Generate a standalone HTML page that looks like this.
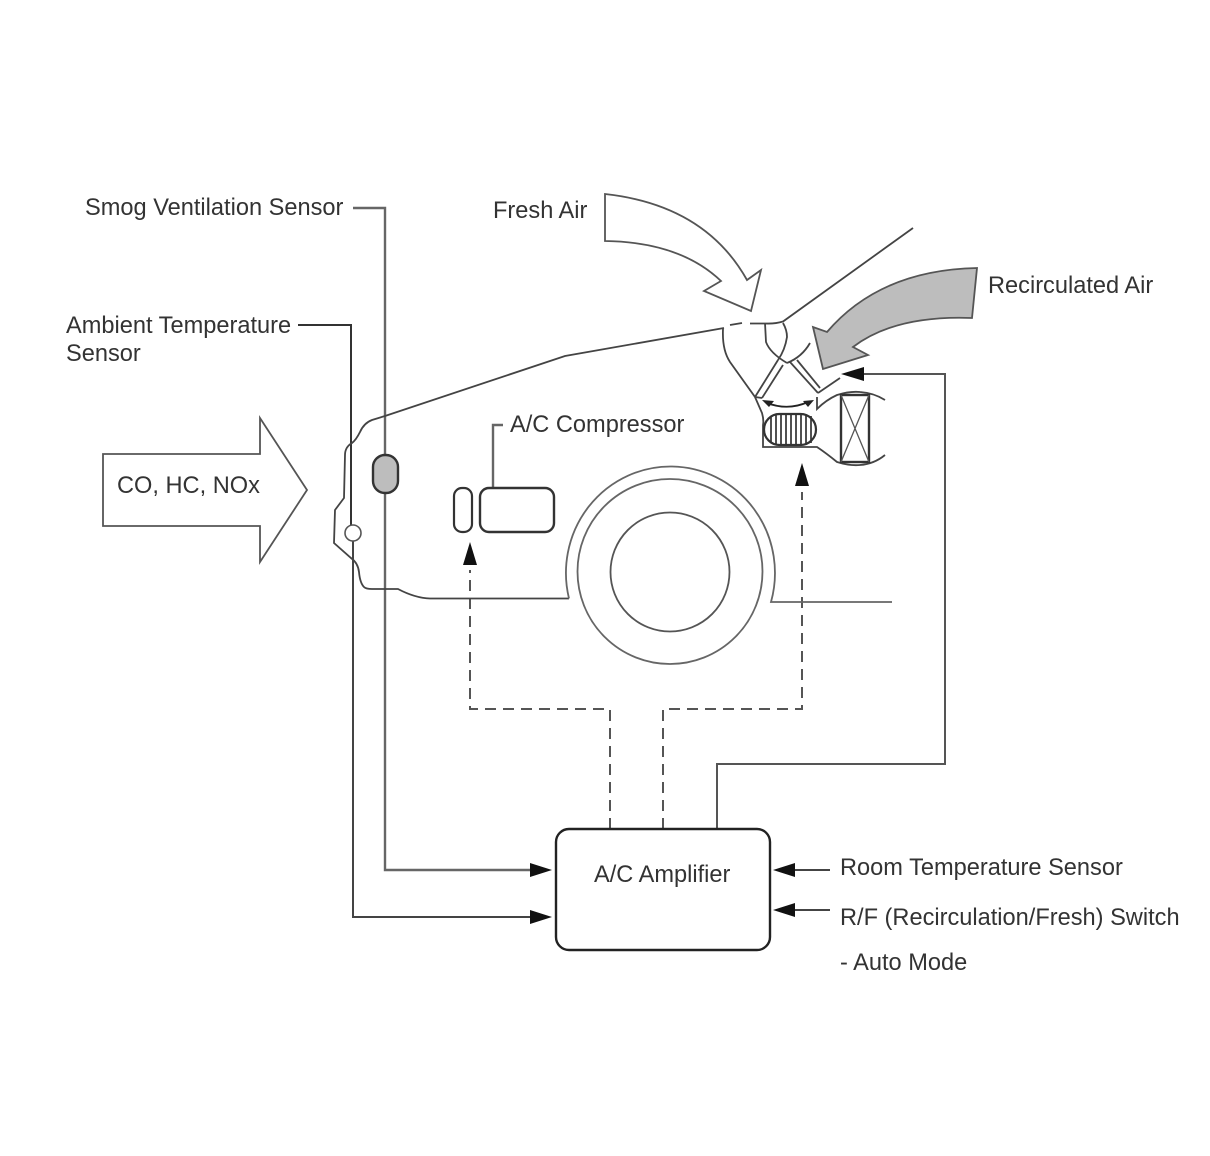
<!DOCTYPE html>
<html>
<head>
<meta charset="utf-8">
<style>
html,body{margin:0;padding:0;background:#fff;}
svg{display:block;}
text{font-family:"Liberation Sans",sans-serif;font-size:23.6px;fill:#333;}
</style>
</head>
<body>
<svg width="1210" height="1156" viewBox="0 0 1210 1156" xmlns="http://www.w3.org/2000/svg">
<!-- leaders and connectors -->
<g fill="none" stroke-width="2">
<path d="M353 208H385V454M385 494V870H530" stroke="#666" stroke-width="2.4"/>
<path d="M298 325H351V525" stroke="#333"/>
<path d="M353 541V917H530" stroke="#444"/>
<path d="M503 425H493V488" stroke="#666" stroke-width="2.4"/>
<path d="M717 829V764H945V374H862" stroke="#555"/>
<path d="M830 870H795M830 910H795" stroke="#444"/>
</g>
<g fill="none" stroke="#555" stroke-width="2" stroke-dasharray="11 7">
<path d="M610 829V709H470V570"/>
<path d="M663 829V709H802V492"/>
</g>
<g fill="none" stroke="#444" stroke-width="1.8">
<!-- car body -->
<path d="M913 228L783 321.5Q775 324 765 323.5L750 323.5"/>
<path d="M742 323L730 325"/>
<path d="M724 328L565 356L385 416L372 420Q364 423 360 432Q356 440 352 443Q345 447 345 455L344 498L335 510L334 543L351 558Q358 563 359 572Q360 583 364 587Q366 589 372 589L398 589Q415 598 430 598.5L569 598.5"/>
<!-- wheel -->
<path d="M569 598.5A104.5 106.5 0 1 1 771 602L892 602" stroke="#666"/>
<circle cx="670" cy="571.5" r="92.5" stroke="#666"/>
<circle cx="670" cy="572" r="59.5" stroke="#555"/>
<!-- duct -->
<path d="M723 329Q722 350 730 362L755 397L762 413Q764 420 763 425L763 447L817 447Q826 453 837 462Q850 466 860 465Q874 464 885 455"/>
<path d="M765 323L766 342Q770 353 787 363"/>
<path d="M783 323Q787 330 787 337Q785 350 778 360"/>
<path d="M787 363Q802 357 810 343"/>
<!-- flaps -->
<path d="M755 397L778 360M762 398L783 365M755 397L762 398"/>
<path d="M790 362L818 393M797 360L820 388"/>
<path d="M818 393L840 378"/>
<path d="M817 397L817 409Q826 400 837 395Q850 391 860 392Q874 393 885 400"/>
<!-- swing arc -->
<path d="M767 403Q788 411 808 402" stroke="#222"/>
</g>
<path d="M762 400L774 401L769 407ZM814 400L803 401L808 407Z" fill="#222"/>
<!-- blower -->
<rect x="764" y="414" width="52" height="31" rx="15.5" fill="#fff" stroke="#333" stroke-width="2.2"/>
<path d="M771 416V443M776 415V444M781 415V444M786 415V444M791 415V444M796 415V444M801 415V444M806 415V444M811 416V443" stroke="#333" stroke-width="1.7"/>
<!-- filter -->
<rect x="841" y="395" width="28" height="67" fill="#fff" stroke="#333" stroke-width="2.4"/>
<path d="M841 395L869 462M869 395L841 462" stroke="#555" stroke-width="1.3"/>
<!-- big arrows -->
<path d="M605 194Q705 205 747 280L761 270L751 311L704 291L721 281Q680 242 605 241Z" fill="#fff" stroke="#555" stroke-width="1.8"/>
<path d="M977 268Q880 270 827 332L813 327L823 369L868 355L853 347Q895 315 972 318Z" fill="#bdbdbd" stroke="#555" stroke-width="1.8"/>
<path d="M103 454H260V418L307 490L260 562V526H103Z" fill="#fff" stroke="#555" stroke-width="1.8"/>
<!-- arrowheads -->
<g fill="#111">
<path d="M552 870L530 863V877Z"/>
<path d="M552 917L530 910V924Z"/>
<path d="M773 870L795 863V877Z"/>
<path d="M773 910L795 903V917Z"/>
<path d="M841 374L864 367V381Z"/>
<path d="M470 542L463 565H477Z"/>
<path d="M802 463L795 486H809Z"/>
</g>
<!-- components -->
<rect x="373" y="455" width="25" height="38" rx="12" fill="#bdbdbd" stroke="#333" stroke-width="2.4"/>
<circle cx="353" cy="533" r="8" fill="#fff" stroke="#555" stroke-width="1.6"/>
<rect x="454" y="488" width="18" height="44" rx="8" fill="#fff" stroke="#333" stroke-width="2.2"/>
<rect x="480" y="488" width="74" height="44" rx="9" fill="#fff" stroke="#333" stroke-width="2.4"/>
<rect x="556" y="829" width="214" height="121" rx="13" fill="#fff" stroke="#222" stroke-width="2.4"/>
<!-- labels -->
<text x="85" y="215">Smog Ventilation Sensor</text>
<text x="493" y="218">Fresh Air</text>
<text x="988" y="293">Recirculated Air</text>
<text x="66" y="333">Ambient Temperature</text>
<text x="66" y="361">Sensor</text>
<text x="510" y="432">A/C Compressor</text>
<text x="117" y="493">CO, HC, NOx</text>
<text x="594" y="882">A/C Amplifier</text>
<text x="840" y="875">Room Temperature Sensor</text>
<text x="840" y="925">R/F (Recirculation/Fresh) Switch</text>
<text x="840" y="970">- Auto Mode</text>
</svg>
</body>
</html>
